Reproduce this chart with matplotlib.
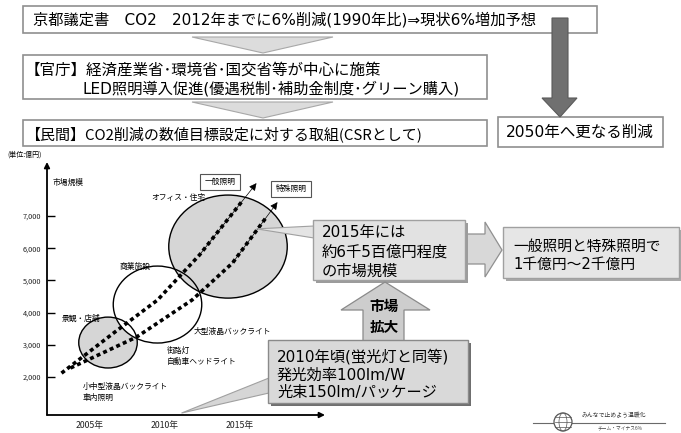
import matplotlib
matplotlib.use('Agg')
import matplotlib.pyplot as plt
from matplotlib.patches import Rectangle, Polygon, Ellipse, Circle

plt.rcParams['font.family'] = ['Noto Sans CJK JP', 'DejaVu Sans']
MIX = ['DejaVu Sans', 'Noto Sans CJK JP']
CJK = ['Noto Sans CJK JP', 'DejaVu Sans']

# ---------------- data ----------------
year_ticks = [2005, 2010, 2015]
year_labels = ['2005年', '2010年', '2015年']
value_ticks = [2000, 3000, 4000, 5000, 6000, 7000]
value_labels = ['2,000', '3,000', '4,000', '5,000', '6,000', '7,000']

bubble_names = ['景観・店舗', '商業施設', 'オフィス・住宅']
bubble_years = [2006.2, 2009.5, 2014.2]
bubble_values = [3070, 4250, 6050]
bubble_sizes = [790, 1195, 1600]          # radius, 億円
bubble_filled = [True, False, True]

general_years = [2003.1, 2006.5, 2009.5, 2012.3, 2016.1]
general_values = [2120, 3340, 4390, 5790, 8020]
special_years = [2003.7, 2008.1, 2011.8, 2014.5, 2017.5]
special_values = [2280, 3240, 4390, 5540, 7430]

top_text = '京都議定書　CO2　2012年までに6%削減(1990年比)⇒現状6%増加予想'
gov_lines = ['【官庁】経済産業省･環境省･国交省等が中心に施策',
             'LED照明導入促進(優遇税制･補助金制度･グリーン購入)']
private_text = '【民間】CO2削減の数値目標設定に対する取組(CSRとして)'
future_text = '2050年へ更なる削減'
market_lines = ['2015年には', '約6千5百億円程度', 'の市場規模']
result_lines = ['一般照明と特殊照明で', '1千億円～2千億円']
expand_lines = ['市場', '拡大']
tech_lines = ['2010年頃(蛍光灯と同等)', '発光効率100lm/W', '光束150lm/パッケージ']
market_point = (2016.1, 6600)
tech_point = (2011.1, 880)

# ---------------- figure ----------------
W, H = 681, 433
fig = plt.figure(figsize=(W / 100, H / 100), dpi=100)
fig.patch.set_facecolor('white')

# chart axes
ax = fig.add_axes([47 / W, (H - 415) / H, (325 - 47) / W, (415 - 162) / H])
ax.set_xlim(2002.133, 2020.667)
ax.set_ylim(820, 8677)
for s in ax.spines.values():
    s.set_visible(False)
ax.patch.set_alpha(0)
ax.set_yticks(value_ticks, value_labels, fontsize=5.3, color='#222222')
ax.set_xticks(year_ticks, year_labels, fontsize=6.3, color='#222222')
ax.tick_params(axis='y', direction='in', length=6, width=1, pad=4)
ax.tick_params(axis='x', length=0, pad=4)
for xy in [(0, 1), (1, 0)]:
    ax.annotate('', xy=xy, xytext=(0, 0), xycoords='axes fraction',
                arrowprops=dict(arrowstyle='-|>', lw=1.3, color='black',
                                mutation_scale=8, shrinkA=0, shrinkB=0))

# bubble geometry from axes scale
p0 = ax.transData.transform((2010, 4000))
px_year = ax.transData.transform((2011, 4000))[0] - p0[0]
px_val = ax.transData.transform((2010, 5000))[1] - p0[1]
stretch = 1.15
for yr, v, r, filled in zip(bubble_years, bubble_values, bubble_sizes, bubble_filled):
    w = 2 * r * (px_val / 1000) / px_year * stretch
    ax.add_patch(Ellipse((yr, v), w, 2 * r, fc='#d6d6d6' if filled else 'white',
                         ec='none', zorder=2))
for yr, v, r in zip(bubble_years, bubble_values, bubble_sizes):
    w = 2 * r * (px_val / 1000) / px_year * stretch
    ax.add_patch(Ellipse((yr, v), w, 2 * r, fc='none', ec='black', lw=1.0, zorder=3))

for xs, ys in [(general_years, general_values), (special_years, special_values)]:
    ax.plot(xs[:-1] + [xs[-1] - 0.25 * (xs[-1] - xs[-2])],
            ys[:-1] + [ys[-1] - 0.25 * (ys[-1] - ys[-2])],
            color='black', lw=2.6, ls=(0, (1.1, 0.9)), zorder=5)
    ax.annotate('', xy=(xs[-1], ys[-1]), xytext=(xs[-2], ys[-2]),
                arrowprops=dict(arrowstyle='-|>', lw=0.5, color='black',
                                mutation_scale=11, shrinkA=0, shrinkB=0), zorder=5)

fs_small = 5.6
ax.text(2002.5, 8030, '市場規模', fontsize=fs_small, ha='left', va='center')
ax.text(2010.9, 7560, bubble_names[2], fontsize=fs_small, ha='center', va='center')
ax.text(2008.0, 5420, bubble_names[1], fontsize=fs_small, ha='center', va='center')
ax.text(2004.4, 3800, bubble_names[0], fontsize=fs_small, ha='center', va='center')
ax.text(2014.5, 3400, '大型液晶バックライト', fontsize=fs_small, ha='center', va='center')
ax.text(2010.1, 2810, '街路灯', fontsize=fs_small, ha='left', va='center')
ax.text(2010.1, 2470, '自動車ヘッドライト', fontsize=fs_small, ha='left', va='center')
ax.text(2004.5, 1690, '小中型液晶バックライト', fontsize=fs_small, ha='left', va='center')
ax.text(2004.5, 1350, '車内照明', fontsize=fs_small, ha='left', va='center')
for label, xy in [('一般照明', (2013.67, 8060)), ('特殊照明', (2018.4, 7840))]:
    ax.text(xy[0], xy[1], label, fontsize=fs_small, ha='center', va='center', zorder=6,
            bbox=dict(boxstyle='square,pad=0.55', fc='white', ec='#555555', lw=0.8))

# ---------------- canvas (pixel) axes ----------------
cv = fig.add_axes([0, 0, 1, 1])
cv.set_xlim(0, W)
cv.set_ylim(H, 0)
cv.axis('off')
cv.patch.set_alpha(0)


def to_canvas(pt):
    return cv.transData.inverted().transform(ax.transData.transform(pt))


def rect(x0, y0, x1, y1, fc='white', ec='#8f8f8f', lw=1.2, shadow=None, z=2):
    if shadow:
        cv.add_patch(Rectangle((x0 + 3, y0 + 3), x1 - x0, y1 - y0, fc=shadow, ec='none', zorder=z))
    cv.add_patch(Rectangle((x0, y0), x1 - x0, y1 - y0, fc=fc, ec=ec, lw=lw, zorder=z + 0.1))


def txt(x, y, s, size, ha='left', fam=MIX, **kw):
    cv.text(x, y, s, fontsize=size, va='center', ha=ha, family=fam, zorder=3, **kw)


# top flow
rect(23, 6, 597, 33)
txt(33, 20, top_text, 11.0)
cv.add_patch(Polygon([(192, 37), (333, 37), (263, 53)], fc='#dcdcdc', ec='#a8a8a8', lw=0.8))
rect(23, 55, 487, 99)
txt(25, 70, gov_lines[0], 11.2)
txt(83, 89, gov_lines[1], 11.0)
cv.add_patch(Polygon([(192, 102), (333, 102), (263, 118)], fc='#dcdcdc', ec='#a8a8a8', lw=0.8))
rect(23, 120, 487, 146)
txt(25, 134, private_text, 10.8, fam=CJK)

cv.add_patch(Polygon([(552, 18), (568, 18), (568, 98), (577, 98), (560, 117),
                      (542, 98), (552, 98)], fc='#707070', ec='#5a5a5a', lw=0.8, zorder=4))
rect(498, 117, 663, 147)
txt(580, 132, future_text, 11.2, ha='center')

# market size callout
mp = to_canvas(market_point)
cv.add_patch(Polygon([(314, 226), tuple(mp), (314, 238)], fc='#e4e4e4', ec='#a0a0a0', lw=0.8, zorder=2))
rect(313, 220, 465, 280, fc='#e2e2e2', ec='#a0a0a0', lw=1.0, shadow='#9c9c9c')
for line, y in zip(market_lines, [233, 252, 271]):
    txt(322, y, line, 11)

cv.add_patch(Polygon([(467, 234), (485, 234), (485, 222), (502, 250), (485, 277),
                      (485, 264), (467, 264)], fc='#d8d8d8', ec='#909090', lw=0.9))
rect(503, 227, 679, 278, fc='#e6e6e6', ec='#a0a0a0', lw=1.0, shadow='#a8a8a8')
for line, y in zip(result_lines, [246, 264]):
    txt(513, y, line, 10.6)

# expansion arrow
cv.add_patch(Polygon([(363, 341), (363, 310), (341, 310), (385, 282), (430, 310),
                      (404, 310), (404, 341)], fc='#cdcdcd', ec='#8a8a8a', lw=0.9, zorder=2))
for line, y in zip(expand_lines, [306, 327]):
    cv.text(384, y, line, fontsize=10.5, va='center', ha='center', zorder=3, fontweight='bold')

# technology callout
tp = to_canvas(tech_point)
cv.add_patch(Polygon([(269, 378), tuple(tp), (269, 393)], fc='#d6d6d6', ec='#a0a0a0', lw=0.8, zorder=2))
rect(268, 340, 468, 403, fc='#d9d9d9', ec='#8a8a8a', lw=1.0, shadow='#6f6f6f')
for line, y in zip(tech_lines, [357, 375, 392]):
    txt(277, y, line, 11)

# unit label
cv.text(7, 155, '(単位:億円)', fontsize=5, va='center', ha='left')

# logo
cv.plot([533, 665], [423, 423], color='#6a6a6a', lw=0.8)
cv.add_patch(Circle((563, 422), 9, fc='white', ec='#555555', lw=0.9, zorder=3))
for dy in (-5, 0, 5):
    cv.plot([555, 571], [422 + dy, 422 + dy], color='#555555', lw=0.5, zorder=4)
cv.add_patch(Ellipse((563, 422), 8, 18, fc='none', ec='#555555', lw=0.5, zorder=4))
cv.text(582, 415, 'みんなで止めよう温暖化', fontsize=4.2, va='center', ha='left', color='#333333')
cv.text(598, 428, 'チーム・マイナス6%', fontsize=3.4, va='center', ha='left', color='#444444')

fig.savefig('out.png', dpi=100)
